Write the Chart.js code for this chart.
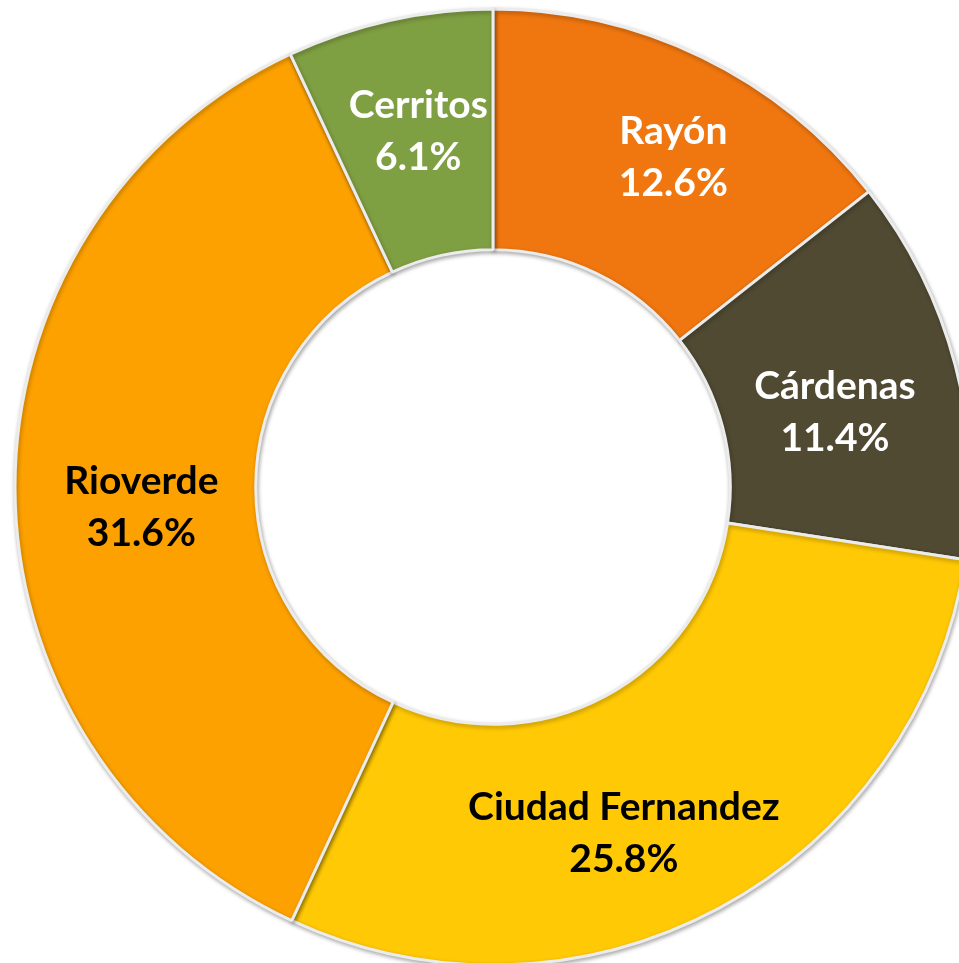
<!DOCTYPE html>
<html>
<head>
<meta charset="utf-8">
<script src="https://cdn.jsdelivr.net/npm/chart.js@4.4.1/dist/chart.umd.min.js"></script>
<style>
    html, body { margin: 0; padding: 0; background: #fff; overflow: hidden; }
    #wrap { position: absolute; left: 0; top: 0; }
</style>
</head>
<body>
<div id="wrap"><canvas id="donut" width="986" height="974"></canvas></div>
<script>
const municipios = ['Rayón', 'Cárdenas', 'Ciudad Fernandez', 'Rioverde', 'Cerritos'];
const porcentajes = [12.6, 11.4, 25.8, 31.6, 6.1];

const sliceColors = ['#F0760F', '#504A33', '#FFC905', '#FDA100', '#7F9F43'];
const labelColors = ['#ffffff', '#ffffff', '#000000', '#000000', '#ffffff'];
// small nudges from the arc centre, where the original placed its labels
const labelNudge = [[24, -8], [-4, 16], [-38, 31], [6, 20], [3, -6]];

// soft shadow under the slices, like the bevelled office chart
const sliceShadow = {
    id: 'sliceShadow',
    beforeDatasetsDraw(chart) {
        const ctx = chart.ctx;
        ctx.save();
        ctx.shadowColor = 'rgba(0, 0, 0, 0.3)';
        ctx.shadowBlur = 4;
        ctx.shadowOffsetX = 1;
        ctx.shadowOffsetY = 2;
    },
    afterDatasetsDraw(chart) {
        chart.ctx.restore();
    }
};

// two-line label in the middle of each arc
const arcLabels = {
    id: 'arcLabels',
    afterDatasetsDraw(chart) {
        const ctx = chart.ctx;
        const meta = chart.getDatasetMeta(0);
        ctx.save();
        ctx.font = 'bold 39px Lato, "Open Sans", sans-serif';
        ctx.textAlign = 'center';
        ctx.textBaseline = 'middle';
        meta.data.forEach((arc, i) => {
            const p = arc.getCenterPoint();
            const x = p.x + labelNudge[i][0];
            const y = p.y + labelNudge[i][1];
            ctx.fillStyle = labelColors[i];
            ctx.fillText(municipios[i], x, y - 26);
            ctx.fillText(porcentajes[i].toFixed(1) + '%', x, y + 26);
        });
        ctx.restore();
    }
};

new Chart(document.getElementById('donut').getContext('2d'), {
    type: 'doughnut',
    data: {
        labels: municipios,
        datasets: [{
            data: porcentajes,
            backgroundColor: sliceColors,
            borderColor: '#ececec',
            borderWidth: 3
        }]
    },
    options: {
        responsive: false,
        animation: false,
        radius: 478,
        cutout: 241,
        layout: { padding: 0 },
        plugins: {
            legend: { display: false },
            tooltip: { enabled: false }
        }
    },
    plugins: [sliceShadow, arcLabels]
});
</script>
</body>
</html>
